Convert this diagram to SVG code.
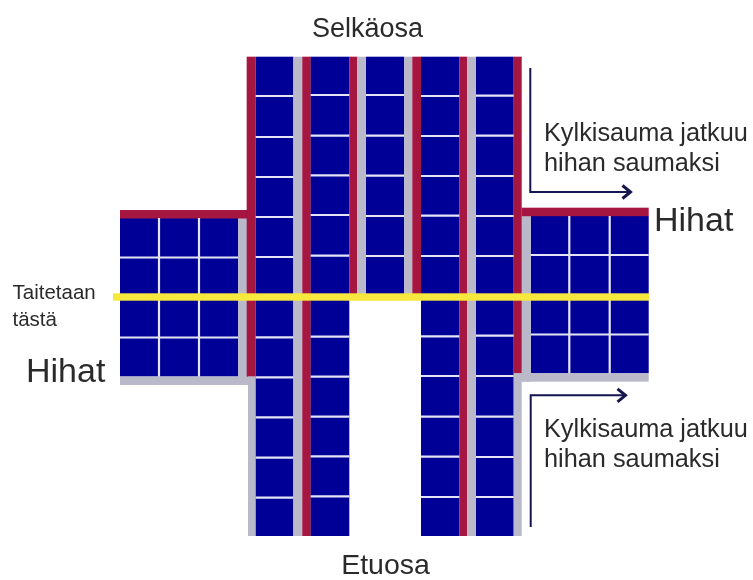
<svg xmlns="http://www.w3.org/2000/svg" width="753" height="580" viewBox="0 0 753 580">
<style>
.b{fill:#000096}.r{fill:#a5123f}.g{fill:#b9b9c9}.y{fill:#f7e83c}
.w{stroke:#e4e4f6;stroke-width:2.2;fill:none}
.a{stroke:#16164f;stroke-width:2;fill:none}
.soft{filter:url(#soft)}
text{font-family:"Liberation Sans",Arial,sans-serif;fill:#2b2b2b}
.l{font-size:27px}.e{font-size:28.500px}.h{font-size:34px}.m{font-size:25.300px}.s{font-size:20.500px}
</style>
<defs>
<filter id="soft" x="-5%" y="-5%" width="110%" height="110%"><feGaussianBlur stdDeviation="0.5"/></filter>
<marker id="h" markerUnits="userSpaceOnUse" markerWidth="14" markerHeight="18" refX="11.500" refY="9" orient="auto"><path d="M3 2.500L11 9L3 15.500" fill="none" stroke="#16164f" stroke-width="3"/></marker>
</defs>
<rect width="753" height="580" fill="#fff"/>
<g class="soft">
<g id="left-sleeve">
<rect class="b" x="120" y="218" width="118" height="158.500"/>
<rect class="g" x="238" y="218" width="9" height="167"/>
<rect class="g" x="120" y="376.500" width="128" height="8.500"/>
<rect class="r" x="120" y="210" width="127" height="8.500"/>
<path class="w" d="M159 218V376.500M199 218V376.500M120 257.500H238M120 337.500H238"/>
</g>
<g id="right-sleeve">
<rect class="b" x="530.700" y="216" width="118" height="157.300"/>
<rect class="g" x="521.700" y="216" width="9" height="165.700"/>
<rect class="g" x="514" y="373.300" width="134.700" height="8.400"/>
<rect class="r" x="521.700" y="207.700" width="127" height="8.500"/>
<path class="w" d="M569.300 216V373.300M609.700 216V373.300M530.700 255H648.700M530.700 334.500H648.700"/>
</g>
<g id="back-and-front">
<rect class="r" x="246.700" y="56.700" width="9" height="320"/>
<rect class="g" x="248" y="376.500" width="7.700" height="159.500"/>
<rect class="b" x="255.700" y="56.700" width="37.700" height="479.300"/>
<rect class="g" x="293.300" y="56.700" width="9" height="479.300"/>
<rect class="r" x="302.300" y="56.700" width="8.500" height="479.300"/>
<rect class="b" x="310.700" y="56.700" width="38.600" height="479.300"/>
<rect class="r" x="349.300" y="56.700" width="8" height="240"/>
<rect class="g" x="357.300" y="56.700" width="8.700" height="240"/>
<rect class="b" x="366" y="56.700" width="38" height="240"/>
<rect class="g" x="404" y="56.700" width="8.300" height="240"/>
<rect class="r" x="412.300" y="56.700" width="8.700" height="240"/>
<rect class="b" x="421" y="56.700" width="38.300" height="479.300"/>
<rect class="r" x="459.300" y="56.700" width="8" height="479.300"/>
<rect class="g" x="467.300" y="56.700" width="8.700" height="479.300"/>
<rect class="b" x="476" y="56.700" width="37.700" height="479.300"/>
<rect class="r" x="513.700" y="56.700" width="8" height="316.600"/>
<rect class="g" x="513.700" y="373.300" width="8" height="162.700"/>
<path class="w" d="M255.700 96H293.300M255.700 137H293.300M255.700 177H293.300M255.700 217H293.300M255.700 257H293.300M255.700 337.300H293.300M255.700 377.300H293.300M255.700 417.300H293.300M255.700 457.700H293.300M255.700 497.700H293.300"/>
<path class="w" d="M310.700 95H349.300M310.700 135.700H349.300M310.700 175.300H349.300M310.700 215H349.300M310.700 255.700H349.300M310.700 336.700H349.300M310.700 376.700H349.300M310.700 416.700H349.300M310.700 456.300H349.300M310.700 496.300H349.300"/>
<path class="w" d="M366 95H404M366 135.700H404M366 175.700H404M366 216H404M366 256H404"/>
<path class="w" d="M421 96H459.300M421 136H459.300M421 176H459.300M421 215.700H459.300M421 256H459.300M421 336.300H459.300M421 376H459.300M421 416.700H459.300M421 456.700H459.300M421 497H459.300"/>
<path class="w" d="M476 95.700H513.700M476 135.700H513.700M476 176H513.700M476 216H513.700M476 256H513.700M476 335.700H513.700M476 376H513.700M476 416.700H513.700M476 457H513.700M476 497H513.700"/>
</g>
<g id="fold-line"><rect class="y" x="113" y="293.300" width="536" height="7.400"/></g>
<g id="connectors">
<path class="a" d="M530.300 68V192H631" marker-end="url(#h)"/>
<path class="a" d="M530.700 527V395.300H626" marker-end="url(#h)"/>
</g>
<g id="labels">
<text class="l" x="367.500" y="36.500" text-anchor="middle">Selkäosa</text>
<text class="e" x="385.500" y="573.500" text-anchor="middle">Etuosa</text>
<text class="m" x="544" y="140.500">Kylkisauma jatkuu</text>
<text class="m" x="544" y="171">hihan saumaksi</text>
<text class="m" x="544" y="436.500">Kylkisauma jatkuu</text>
<text class="m" x="544" y="467">hihan saumaksi</text>
<text class="h" x="654" y="230.500">Hihat</text>
<text class="h" x="26" y="381.500">Hihat</text>
<text class="s" x="12.500" y="299">Taitetaan</text>
<text class="s" x="12.500" y="326">tästä</text>
</g>
</g>
</svg>
